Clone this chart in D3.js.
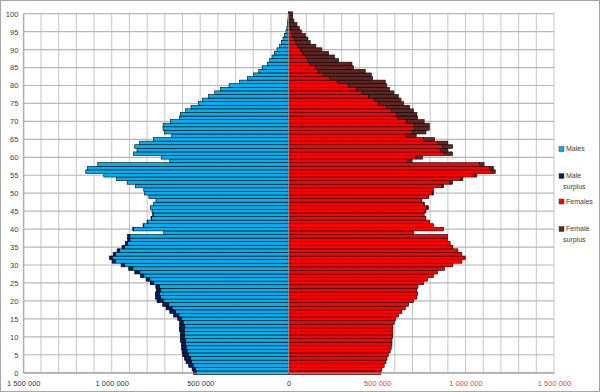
<!DOCTYPE html>
<html>
<head>
<meta charset="utf-8">
<style>
  body { margin: 0; background: #fff; }
  svg text { font-family: "Liberation Sans", Arial, sans-serif; }
</style>
<title>Population pyramid</title>
</head>
<body>
<script src="https://cdn.jsdelivr.net/npm/d3@7"></script>
<script>
// data: population by single year of age, in thousands
var ages = d3.range(0, 101);
var males = [
  537, 546, 565, 580, 589, 599, 603, 606, 606, 612,
  612, 612, 618, 616, 616, 627, 650, 672, 693, 712,
  744, 753, 753, 748, 751, 782, 806, 838, 870, 904,
  947, 998, 1013, 992, 970, 942, 923, 910, 910, 706,
  881, 823, 800, 778, 768, 772, 782, 763, 750, 790,
  814, 819, 866, 913, 974, 1045, 1147, 1136, 1079, 672,
  719, 876, 857, 870, 842, 763, 661, 701, 710, 710,
  667, 618, 612, 582, 552, 510, 486, 452, 418, 386,
  337, 277, 232, 198, 169, 150, 120, 107, 94, 81,
  66, 51, 41, 32, 23, 15, 10, 7, 5, 3,
  2
];
var females = [
  522, 527, 540, 550, 556, 565, 574, 580, 584, 584,
  588, 589, 589, 589, 597, 606, 621, 640, 659, 678,
  706, 725, 729, 725, 731, 763, 785, 819, 842, 881,
  928, 979, 998, 979, 957, 928, 913, 898, 898, 706,
  876, 819, 797, 776, 766, 776, 791, 768, 753, 791,
  819, 819, 876, 927, 985, 1064, 1168, 1158, 1105, 697,
  757, 927, 900, 927, 900, 825, 721, 776, 795, 795,
  766, 729, 725, 706, 684, 650, 635, 620, 595, 570,
  555, 546, 475, 467, 433, 367, 358, 282, 260, 226,
  188, 154, 122, 109, 94, 72, 60, 47, 30, 23,
  23
];
var xTicks = [-1500000, -1000000, -500000, 0, 500000, 1000000, 1500000];
var yTicks = d3.range(0, 101, 5);
var legendItems = ["Males", "Male surplus", "Females", "Female surplus"];
var legendColors = ["#00b0f0", "#002060", "#ff0000", "#632523"];

var W = 600, H = 392;
var margin = {top: 13.7, right: 46, bottom: 19.3, left: 23.3};

var svg = d3.select("body").append("svg")
  .attr("width", W).attr("height", H);

svg.append("rect")
  .attr("x", 0.5).attr("y", 0.5)
  .attr("width", W - 1).attr("height", H - 1)
  .attr("fill", "#fff").attr("stroke", "#a6a6a6");

var x = d3.scaleLinear().domain([-1500000, 1500000])
  .range([margin.left, W - margin.right]);
var y = d3.scaleLinear().domain([0, 100])
  .range([H - margin.bottom, margin.top]);
var bh = y(0) - y(1);

// gridlines
var grid = svg.append("g");
grid.selectAll(".vg").data(d3.range(-1500000, 1500001, 100000)).join("line")
  .attr("x1", d => x(d)).attr("x2", d => x(d))
  .attr("y1", y(100)).attr("y2", y(0))
  .attr("stroke", "#c4c4c4").attr("stroke-width", 1);
grid.selectAll(".hg").data(yTicks).join("line")
  .attr("x1", x(-1500000)).attr("x2", x(1500000))
  .attr("y1", d => y(d)).attr("y2", d => y(d))
  .attr("stroke", "#b8b8b8").attr("stroke-width", 1.2);

var rows = ages.map(function (a, i) {
  var m = males[i] * 1000, f = females[i] * 1000;
  return {age: a, m: m, f: f, lo: Math.min(m, f)};
});

var bars = svg.append("g").attr("stroke", "#000").attr("stroke-width", 0.6);
function addBars(cls, color, x0, x1) {
  bars.selectAll("." + cls).data(rows.filter(d => x1(d) !== x0(d))).join("rect")
    .attr("class", cls)
    .attr("x", d => Math.min(x(x0(d)), x(x1(d))))
    .attr("width", d => Math.abs(x(x1(d)) - x(x0(d))))
    .attr("y", d => y(d.age) - bh / 2)
    .attr("height", bh)
    .attr("fill", color);
}
addBars("male", legendColors[0], d => 0, d => -d.lo);
addBars("msur", legendColors[1], d => -d.lo, d => -d.m);
addBars("female", legendColors[2], d => 0, d => d.lo);
addBars("fsur", legendColors[3], d => d.lo, d => d.f);

// axis lines
svg.append("line")
  .attr("x1", x(0)).attr("x2", x(0)).attr("y1", y(100)).attr("y2", y(0))
  .attr("stroke", "#a0a0a0").attr("stroke-width", 1);

// y axis
var fmt = d3.format(",");
var yAxis = svg.append("g")
  .attr("transform", "translate(" + x(-1500000) + ",0)")
  .call(d3.axisLeft(y).tickValues(yTicks).tickSize(0).tickPadding(5));
yAxis.select(".domain").attr("stroke", "#a0a0a0");
yAxis.selectAll("text").attr("font-size", 7.5).attr("fill", "#404040")
  .attr("font-family", "Liberation Sans, Arial, sans-serif");

// x axis
var xAxis = svg.append("g")
  .attr("transform", "translate(0," + y(0) + ")")
  .call(d3.axisBottom(x).tickValues(xTicks).tickSize(0).tickPadding(8)
    .tickFormat(d => fmt(Math.abs(d)).replace(/,/g, " ")));
xAxis.select(".domain").attr("stroke", "#a0a0a0");
xAxis.selectAll("text").attr("font-size", 7.5)
  .attr("font-family", "Liberation Sans, Arial, sans-serif")
  .attr("fill", d => d > 0 ? "#ff3b3b" : "#2b3550");

// legend
var legendY = [149, 176, 201.5, 229];
var lg = svg.append("g").attr("transform", "translate(559,0)");
legendItems.forEach(function (name, i) {
  var g = lg.append("g").attr("transform", "translate(0," + legendY[i] + ")");
  g.append("rect").attr("x", 0).attr("y", -2.5).attr("width", 5).attr("height", 5)
    .attr("fill", legendColors[i]).attr("stroke", "#404040").attr("stroke-width", 0.5);
  var words = name.split(" ");
  words.forEach(function (w, j) {
    g.append("text")
      .attr("x", j === 0 ? 7 : 4).attr("y", j * 11)
      .attr("dy", "0.35em")
      .attr("font-size", 7).attr("fill", "#404040")
      .text(w);
  });
});
</script>
</body>
</html>
